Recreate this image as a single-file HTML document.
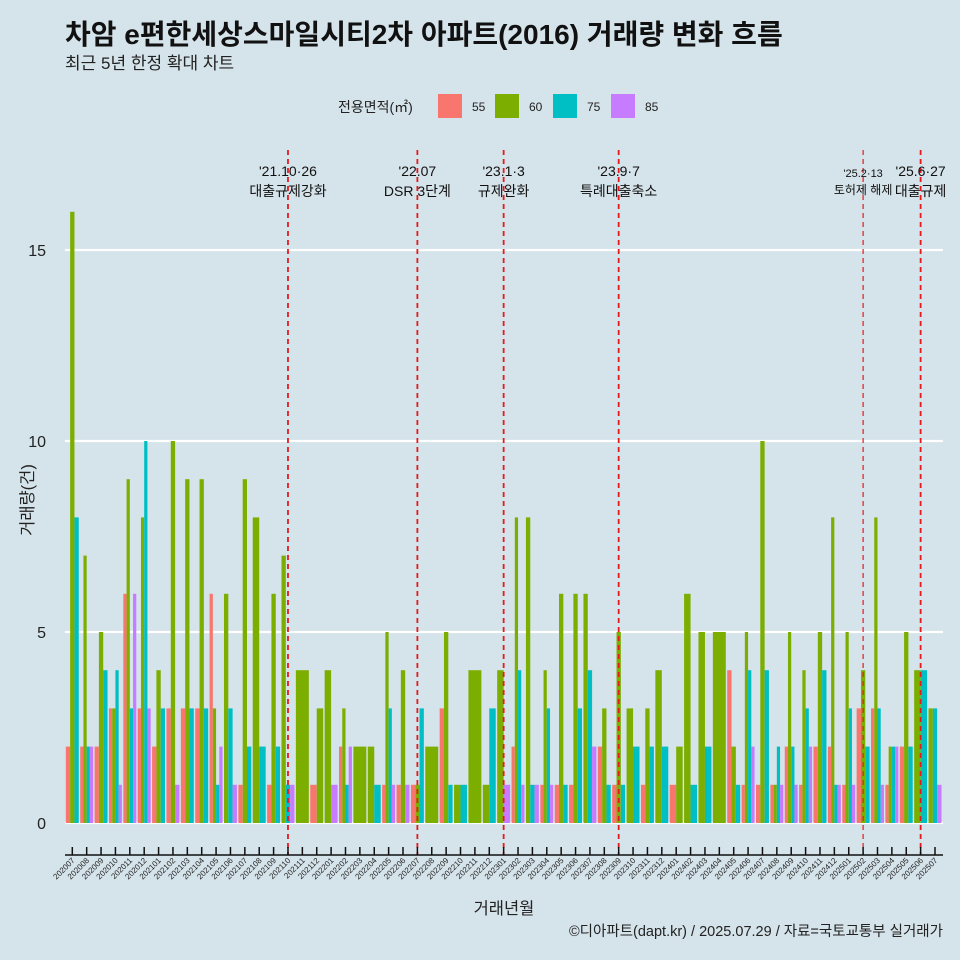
<!DOCTYPE html>
<html><head><meta charset="utf-8"><style>
body{margin:0;background:#d5e3ea;}
svg{display:block;font-family:"Liberation Sans","Noto Sans CJK KR",sans-serif;}
</style></head><body>
<svg id="chart" width="960" height="960" viewBox="0 0 960 960">
<rect x="0" y="0" width="960" height="960" fill="#d5e3ea"/>
<text x="65" y="44" font-size="28" font-weight="bold" fill="#111">차암 e편한세상스마일시티2차 아파트(2016) 거래량 변화 흐름</text>
<text x="65" y="69" font-size="17" fill="#222">최근 5년 한정 확대 차트</text>
<g id="legend"></g>
<g id="grid"></g>
<g id="bars"></g>
<g id="events"></g>
<g id="axes"></g>
<text x="504" y="914" font-size="16.5" text-anchor="middle" fill="#222">거래년월</text>
<text transform="translate(33,500) rotate(-90)" font-size="16.5" text-anchor="middle" fill="#222">거래량(건)</text>
<text x="943" y="936" font-size="14.5" text-anchor="end" fill="#222">©디아파트(dapt.kr) / 2025.07.29 / 자료=국토교통부 실거래가</text>
</svg>
<script>
const months=["202007","202008","202009","202010","202011","202012","202101","202102","202103","202104","202105","202106","202107","202108","202109","202110","202111","202112","202201","202202","202203","202204","202205","202206","202207","202208","202209","202210","202211","202212","202301","202302","202303","202304","202305","202306","202307","202308","202309","202310","202311","202312","202401","202402","202403","202404","202405","202406","202407","202408","202409","202410","202411","202412","202501","202502","202503","202504","202505","202506","202507"];
const seriesNames=["55","60","75","85"];
const s55=[2,2,2,3,6,3,2,3,3,3,6,null,1,null,1,null,null,1,null,2,null,null,1,1,1,null,3,null,null,null,null,2,null,1,1,1,null,2,1,null,1,null,1,null,null,null,4,1,1,1,2,1,2,2,1,3,3,1,2,null,null];
const s60=[16,7,5,3,9,8,4,10,9,9,3,6,9,8,6,7,4,3,4,3,2,2,5,4,1,2,5,1,4,1,4,8,8,4,6,6,6,3,5,3,3,4,2,6,5,5,2,5,10,1,5,4,5,8,5,4,8,2,5,4,3];
const s75=[8,2,4,4,3,10,3,null,3,3,1,3,2,2,2,1,null,null,null,1,null,1,3,null,3,null,1,1,null,3,null,4,1,3,1,3,4,1,1,2,2,2,null,1,2,null,1,4,4,2,2,3,4,1,3,2,3,2,2,4,3];
const s85=[null,2,null,1,6,3,null,1,null,null,2,1,null,null,null,1,null,null,1,2,null,null,1,1,null,null,null,null,null,null,1,1,1,1,null,null,2,null,null,null,null,null,null,null,null,null,null,2,null,1,1,2,null,1,1,null,1,2,null,null,1];
const yTicks=[0,5,10,15];
const events=[{m:"202110",a:"'21.10·26",b:"대출규제강화",s:14},{m:"202207",a:"'22.07",b:"DSR 3단계",s:14},{m:"202301",a:"'23.1·3",b:"규제완화",s:14},{m:"202309",a:"'23.9·7",b:"특례대출축소",s:14},{m:"202502",a:"'25.2·13",b:"토허제 해제",s:12},{m:"202506",a:"'25.6·27",b:"대출규제",s:14}];
const colors=["#f8766d","#7cae00","#00bfc4","#c77cff"];
const NS="http://www.w3.org/2000/svg";
const x0=72.3,step=(935-72.3)/60;
const xs=i=>x0+i*step;
const ys=v=>823-v*38.2;
function mk(t,a,p){const e=document.createElementNS(NS,t);for(const k in a)e.setAttribute(k,a[k]);p.appendChild(e);return e;}
const grid=document.getElementById('grid'),axes=document.getElementById('axes');
yTicks.forEach(v=>{
  const l=mk('line',{x1:65,x2:943,y1:ys(v),y2:ys(v),stroke:'#fff','stroke-width':2.2},grid);
  
  
  const t=mk('text',{x:46,y:ys(v)+6,'font-size':16,'text-anchor':'end',fill:'#222'},axes);
  t.textContent=v;
  
  
});
const bars=document.getElementById('bars');
const all=[s55,s60,s75,s85];
const gw=0.9*step;
months.forEach((m,i)=>{
  const present=[];all.forEach((s,k)=>{if(s[i]!=null)present.push(k);});
  const w=gw/present.length;
  present.forEach((k,j)=>{
    const v=all[k][i];
    const r=mk('rect',{x:xs(i)-gw/2+j*w,y:ys(v),width:w,height:ys(0)-ys(v),fill:colors[k]},bars);
    
    
  });
});
const al=mk('line',{x1:65,x2:943,y1:855,y2:855,stroke:'#111','stroke-width':1.5},axes);


months.forEach((m,i)=>{
  const tk=mk('line',{x1:xs(i),x2:xs(i),y1:847,y2:855,stroke:'#111','stroke-width':1.5},axes);
  
  
  const t=mk('text',{transform:`translate(${xs(i)+3},861) rotate(-45)`,'font-size':8,'text-anchor':'end',fill:'#222'},axes);
  t.textContent=m;
  
  
});
const ev=document.getElementById('events');
events.forEach(e=>{
  const i=months.indexOf(e.m),x=xs(i);
  const small=e.s<14;
  const l=mk('line',{x1:x,x2:x,y1:150,y2:855,stroke:'#e8191d','stroke-width':small?1.2:1.8,'stroke-dasharray':'5,4'},ev);
  
  
  const t1=mk('text',{x:x,y:small?177:176,'font-size':small?11:e.s,'text-anchor':'middle',fill:'#111'},ev);
  t1.textContent=e.a;
  
  
  const t2=mk('text',{x:x,y:small?194:196,'font-size':small?12:e.s,'text-anchor':'middle',fill:'#111'},ev);
  t2.textContent=e.b;
  
  
});
const lg=document.getElementById('legend');
const lt=mk('text',{x:338,y:112,'font-size':14,fill:'#222'},lg);
lt.textContent='전용면적(㎡)';


const lx=[438,495,553,611];
seriesNames.forEach((n,k)=>{
  const r=mk('rect',{x:lx[k],y:94,width:24,height:24,fill:colors[k]},lg);
  
  
  const t=mk('text',{x:lx[k]+34,y:111,'font-size':12,fill:'#222'},lg);
  t.textContent=n;
  
  
});
</script>
</body></html>
